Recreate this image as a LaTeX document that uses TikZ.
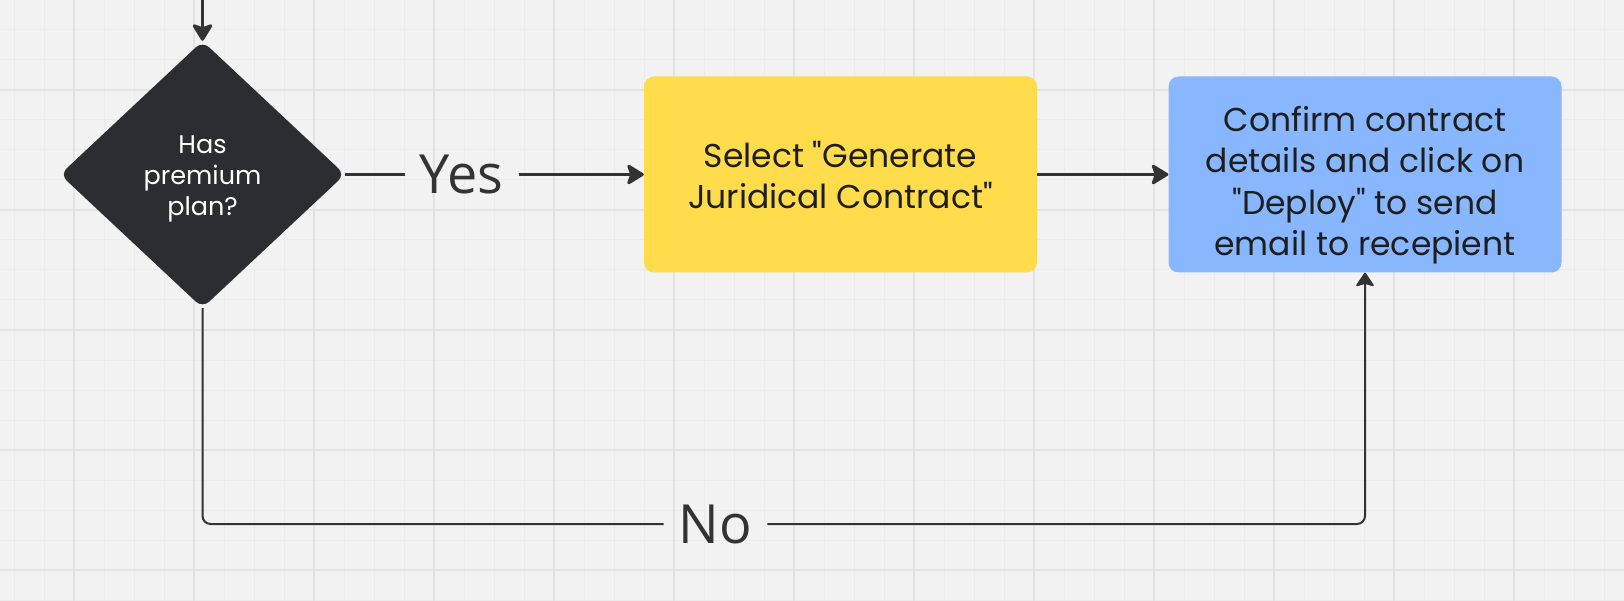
\documentclass[tikz,border=0pt]{standalone}
\usepackage{fontspec}
\usetikzlibrary{shapes.geometric,arrows.meta}
\newfontfamily\boxfont[Ligatures=TeXOff]{Poppins}
\newfontfamily\lblfont{Open Sans}
\definecolor{bg}{HTML}{F2F2F2}
\definecolor{gridminor}{HTML}{EBEBEB}
\definecolor{gridmajor}{HTML}{E3E3E3}
\definecolor{dark}{HTML}{2C2D32}
\definecolor{ylw}{HTML}{FFDC4B}
\definecolor{blu}{HTML}{88B7FF}
\definecolor{ink}{HTML}{1E1E1E}
\definecolor{wire}{HTML}{333333}
\begin{document}
\begin{tikzpicture}[x=1pt,y=-1pt,
  decision/.style={diamond, fill=dark, minimum width=285pt, minimum height=267pt,
    inner sep=0pt, rounded corners=9pt},
  dtext/.style={text=white, align=center, inner sep=0pt, font=\boxfont\fontsize{25.5}{31}\selectfont},
  stepbox/.style={rectangle, rounded corners=10pt, minimum width=393pt, minimum height=196pt,
    inner sep=0pt},
  btext/.style={align=center, inner sep=0pt, text=ink, font=\boxfont\fontsize{33}{41.5}\selectfont},
  lbl/.style={inner xsep=15pt, inner ysep=0pt, text=wire, font=\lblfont\fontsize{54}{60}\selectfont},
  arrowA/.style={draw=wire, line width=3pt, -{Stealth[length=19pt,width=23pt,inset=4pt,round]}},
  lineA/.style={draw=wire, line width=3pt},
  lineB/.style={draw=wire, line width=2pt, rounded corners=8pt},
  tipB/.style={-{Stealth[length=15pt,width=20pt,inset=3pt,round]}},
]
\fill[bg] (0,0) rectangle (1624,601);
\useasboundingbox (0,0) rectangle (1624,601);
\foreach \x in {14,44,...,1604} \draw[gridminor, line width=1pt] (\x,0) -- (\x,601);
\foreach \y in {30,60,...,600} \draw[gridminor, line width=1pt] (0,\y) -- (1624,\y);
\foreach \x in {74,194,...,1514} \draw[gridmajor, line width=2pt] (\x,0) -- (\x,601);
\foreach \y in {90,210,...,570} \draw[gridmajor, line width=2pt] (0,\y) -- (1624,\y);

\node[decision] (q) at (202.5,174.5) {};
\node[dtext] (qtext) at (202.5,179) {Has\\premium\\plan?};
\node[stepbox, fill=ylw] (gen) at (840.5,174.5) {};
\node[btext] (gentext) at (840.5,175) {Select "Generate\\Juridical Contract"};
\node[stepbox, fill=blu] (conf) at (1365,174.5) {};
\node[btext] (conftext) at (1365,185) {Confirm contract\\details and click on\\"Deploy" to send\\email to recepient};
\node[lbl] (yes) at (461.5,174.5) {Yes};
\node[lbl] (no) at (715.5,524) {No};
\coordinate (top) at (202.5,0);

\draw[arrowA] (top) -- (q.north);
\draw[lineA] (q.east) -- (yes.west);
\draw[arrowA] (yes.east) -- (gen.west);
\draw[arrowA] (gen.east) -- (conf.west);
\draw[lineB] (q.south) |- (no.west);
\draw[lineB, tipB] (no.east) -| (conf.south);
\end{tikzpicture}
\end{document}
